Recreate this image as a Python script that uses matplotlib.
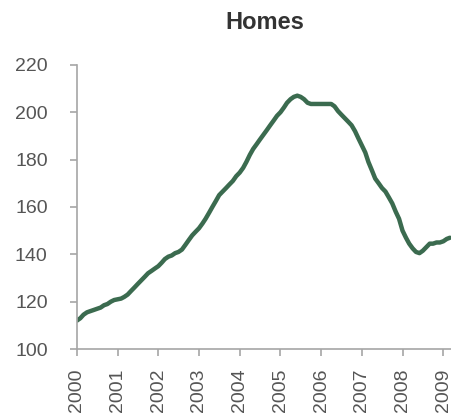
import matplotlib
matplotlib.use("Agg")
import matplotlib.pyplot as plt
import matplotlib.dates as mdates
import pandas as pd

title = "Homes"
start_month = "2000-01-01"
values = [
    # 2000
    112, 113, 114.5, 115.5, 116, 116.5, 117, 117.5, 118.5, 119, 120, 120.7,
    # 2001
    121, 121.3, 122, 123, 124.5, 126, 127.5, 129, 130.5, 132, 133, 134,
    # 2002
    135, 136.5, 138, 139, 139.5, 140.5, 141, 142, 144, 146, 148, 149.5,
    # 2003
    151, 153, 155, 157.5, 160, 162.5, 165, 166.5, 168, 169.5, 171, 173,
    # 2004
    174.5, 176.5, 179, 182, 184.5, 186.5, 188.5, 190.5, 192.5, 194.5, 196.5, 198.5,
    # 2005
    200, 202, 204, 205.5, 206.5, 207, 206.5, 205.5, 204, 203.5, 203.5, 203.5,
    # 2006
    203.5, 203.5, 203.5, 203.5, 202.5, 200.5, 199, 197.5, 196, 194.5, 192, 189,
    # 2007
    186, 183, 179, 175.5, 172, 170, 168, 166.5, 164, 161.5, 158, 155,
    # 2008
    150, 147, 144.5, 142.5, 141, 140.5, 141.5, 143, 144.5, 144.5, 145, 145,
    # 2009
    145.5, 146.5, 147,
]
year_ticks = list(range(2000, 2010))
y_ticks = [100, 120, 140, 160, 180, 200, 220]

dates = pd.date_range(start_month, periods=len(values), freq="MS")

plt.rcParams["font.family"] = ["Liberation Sans", "DejaVu Sans"]

fig = plt.figure(figsize=(4.52, 4.16), dpi=100)
ax = fig.add_axes([0.170, 0.161, 0.830, 0.683])

ax.plot(dates, values, color="#3b6b4f", lw=3.2, solid_capstyle="round")

ax.set_ylim(100, 220)
ax.set_yticks(y_ticks)
ax.set_xlim(pd.Timestamp("2000-01-01"), pd.Timestamp("2009-03-20"))
ax.set_xticks([pd.Timestamp(f"{y}-01-01") for y in year_ticks])
ax.xaxis.set_major_formatter(mdates.DateFormatter("%Y"))

for s in ["top", "right"]:
    ax.spines[s].set_visible(False)
for s in ["left", "bottom"]:
    ax.spines[s].set_color("#a6a6a6")
    ax.spines[s].set_linewidth(1.2)

ax.tick_params(axis="y", direction="out", length=5, width=1.2, color="#a6a6a6",
               labelsize=14, labelcolor="#555555", pad=16)
ax.tick_params(axis="x", direction="out", length=5, width=1.2, color="#a6a6a6",
               labelsize=14, labelcolor="#555555", pad=9, labelrotation=90)

ax.set_title(title, fontsize=17, fontweight="bold", color="#333333", pad=26)

fig.savefig("out.png", dpi=100)
